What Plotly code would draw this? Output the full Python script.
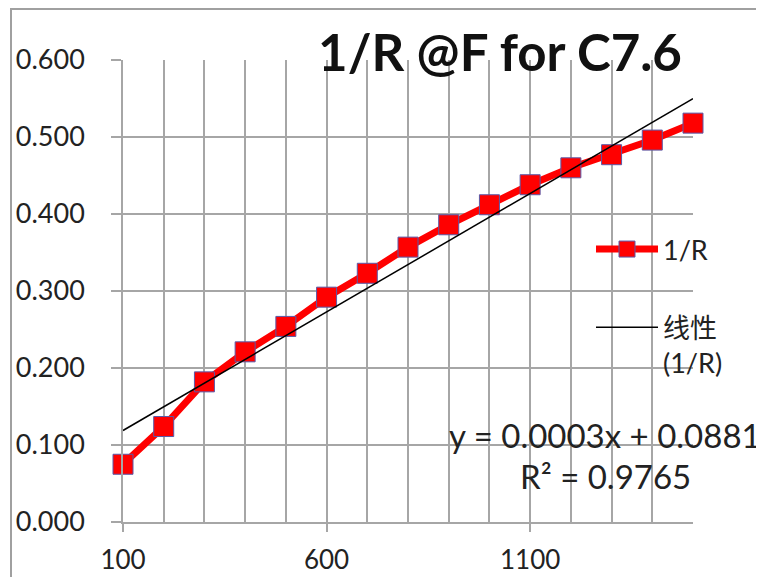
import numpy as np
import plotly.graph_objects as go

# ---- data ----
freq = [100, 200, 300, 400, 500, 600, 700, 800, 900, 1000, 1100, 1200, 1300, 1400, 1500]
inv_r = [0.075, 0.124, 0.182, 0.221, 0.254, 0.292, 0.323, 0.357, 0.386, 0.412,
         0.438, 0.460, 0.477, 0.496, 0.518]
title_text = "1/R @F for C7.6"
series_name = "1/R"
trend_name = "线性<br>(1/R)"
eq_text = "y = 0.0003x + 0.0881"
r2_text = "R² = 0.9765"
x_tickvals = [100, 600, 1100]
y_tickvals = [0.0, 0.1, 0.2, 0.3, 0.4, 0.5, 0.6]

# linear trendline fitted from the data
slope, intercept = np.polyfit(freq, inv_r, 1)
trend_x = [freq[0], freq[-1]]
trend_y = [slope * v + intercept for v in trend_x]

W, H = 764, 577
OFF = 8  # page body offset
# plot area in screen pixels
SX0, SX1, SY0, SY1 = 123, 693, 60, 522
L, T = SX0 - OFF, SY0 - OFF
R = W - (SX1 - OFF)
B = H - (SY1 - OFF)
pw, ph = W - L - R, H - T - B


def px(xs):
    return (xs - SX0) / pw


def py(ys):
    return (SY1 - ys) / ph


FONT = "Lato, 'Noto Sans CJK SC', sans-serif"
GRID = "#a6a6a6"

fig = go.Figure()
fig.add_trace(go.Scatter(
    x=freq, y=inv_r, mode="lines+markers", name=series_name,
    line=dict(color="#ff0000", width=7),
    marker=dict(symbol="square", size=20, color="#ff0000",
                line=dict(color="#5a5aa8", width=1)),
    legendgroup="a", cliponaxis=False,
))
fig.add_trace(go.Scatter(
    x=trend_x, y=trend_y, mode="lines", name=trend_name,
    line=dict(color="#000000", width=1.5),
    legendgroup="b", cliponaxis=False,
))

fig.update_layout(
    width=W, height=H,
    margin=dict(l=L, r=R, t=T, b=B, autoexpand=False),
    paper_bgcolor="white", plot_bgcolor="white",
    font=dict(family=FONT, color="#222222"),
    title=dict(text="<b>" + title_text + "</b>", x=(500 - OFF) / W, xanchor="center",
               y=1 - (53 - OFF) / H, yanchor="middle",
               font=dict(family=FONT, size=51, color="#111111")),
    showlegend=True,
    legend=dict(x=px(591), xanchor="left", y=py(225), yanchor="top",
                bgcolor="rgba(0,0,0,0)", font=dict(size=27, color="#222222"),
                itemwidth=62, tracegroupgap=40, valign="top",
                traceorder="grouped"),
    xaxis=dict(range=[100, 1500], tickvals=x_tickvals, automargin=False,
               showgrid=True, gridcolor=GRID, gridwidth=1.5,
               minor=dict(dtick=100, tick0=100, showgrid=True, gridcolor=GRID, gridwidth=1.5),
               showline=True, linecolor=GRID, linewidth=1.5,
               ticks="outside", ticklen=8, tickcolor=GRID, tickwidth=1.5,
               ticklabelstandoff=6,
               tickfont=dict(size=26, family=FONT, color="#222222"),
               zeroline=False, fixedrange=True),
    yaxis=dict(range=[0, 0.6], tickvals=y_tickvals, tickformat=".3f", automargin=False,
               showgrid=True, gridcolor=GRID, gridwidth=1.5,
               showline=True, linecolor=GRID, linewidth=1.5,
               ticks="outside", ticklen=10, tickcolor=GRID, tickwidth=1.5,
               ticklabelstandoff=21,
               tickfont=dict(size=27, family=FONT, color="#222222"),
               zeroline=False, fixedrange=True),
)

fig.add_annotation(text=eq_text, xref="paper", yref="paper",
                   x=px(605), y=py(435), xanchor="center", yanchor="middle",
                   showarrow=False, font=dict(size=33, family=FONT, color="#222222"))
fig.add_annotation(text=r2_text, xref="paper", yref="paper",
                   x=px(605), y=py(476), xanchor="center", yanchor="middle",
                   showarrow=False, font=dict(size=33, family=FONT, color="#222222"))

# outer chart border
fig.add_shape(type="rect", xref="paper", yref="paper",
              x0=px(11), x1=px(800), y0=py(620), y1=py(9),
              line=dict(color="#a0a0a0", width=2), fillcolor="rgba(0,0,0,0)",
              layer="below")

fig.write_html("out.html")
